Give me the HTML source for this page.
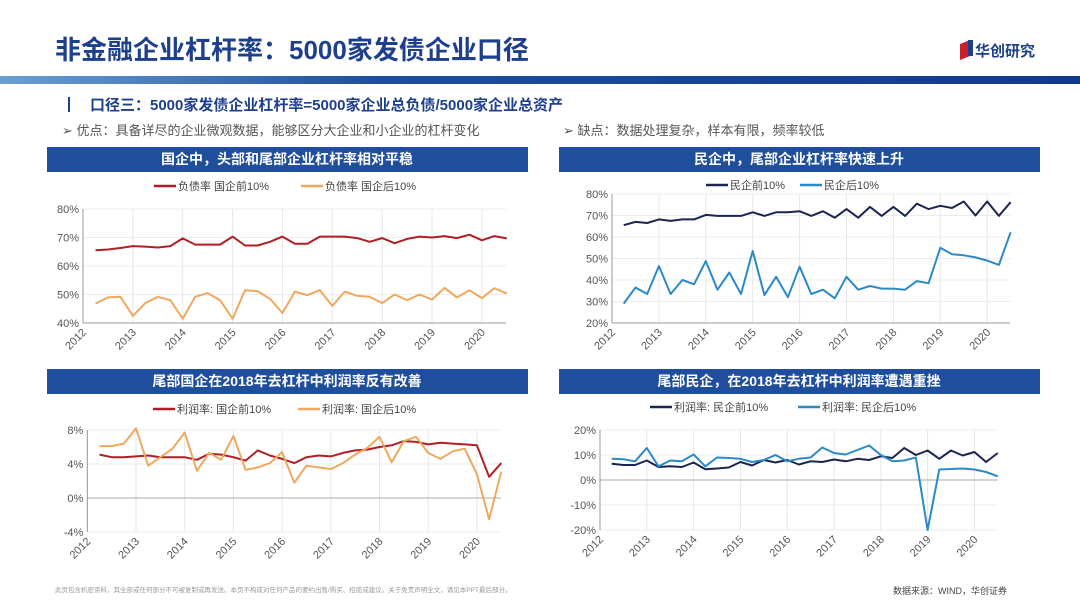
<!DOCTYPE html>
<html><head><meta charset="utf-8"><style>
body{margin:0;width:1080px;height:608px;background:#fff;overflow:hidden;font-family:"Liberation Sans","Noto Sans CJK SC",sans-serif;}
svg text{font-family:"Liberation Sans","Noto Sans CJK SC",sans-serif;}
</style></head><body>
<svg id="root" width="1080" height="608" viewBox="0 0 1080 608" xmlns="http://www.w3.org/2000/svg">
<defs><linearGradient id="bar" x1="0" x2="1"><stop offset="0" stop-color="#6a9fd4"/><stop offset="0.35" stop-color="#1d4e9c"/><stop offset="1" stop-color="#12398a"/></linearGradient></defs>
<text x="55" y="59" font-size="26" font-weight="bold" fill="#1e3f8c">非金融企业杠杆率：5000家发债企业口径</text>
<g><polygon points="960,44 970,40 970,56 960,60" fill="#c8202a"/><rect x="968" y="40" width="5" height="16" fill="#1e3f8c"/><text x="975" y="56" font-size="15" font-weight="bold" fill="#1e3f8c">华创研究</text></g>
<rect x="0" y="76" width="1080" height="8" fill="url(#bar)"/>
<rect x="68" y="97" width="2" height="15" fill="#1e3f8c"/>
<text x="90" y="110" font-size="15" font-weight="bold" fill="#1e3f8c">口径三：5000家发债企业杠杆率=5000家企业总负债/5000家企业总资产</text>
<text x="62" y="135" font-size="13" fill="#555">➢ 优点：具备详尽的企业微观数据，能够区分大企业和小企业的杠杆变化</text>
<text x="563" y="135" font-size="13" fill="#555">➢ 缺点：数据处理复杂，样本有限，频率较低</text>
<g id="charts"></g>
<text x="55" y="592" font-size="6.5" fill="#999">此页包含机密资料，其全部或任何部分不可被复制或再发送。本页不构成对任何产品的要约出售/购买、招揽或建议。关于免责声明全文，请见本PPT最后部分。</text>
<text x="893" y="594" font-size="9" fill="#444">数据来源：WIND，华创证券</text>
</svg>
<script>
const years=["2012","2013","2014","2015","2016","2017","2018","2019","2020"];
const soeLevTop=[65.5,65.8,66.3,67,66.8,66.5,67,69.7,67.5,67.5,67.5,70.3,67.2,67.2,68.5,70.3,67.8,67.8,70.3,70.3,70.3,69.8,68.5,69.8,68,69.5,70.3,70,70.5,69.8,71,69,70.5,69.7];
const soeLevBot=[46.8,49,49.2,42.5,47,49.2,48,41.5,49.2,50.5,48,41.5,51.5,51.2,48.5,43.5,51,49.8,51.5,46,51,49.5,49.2,47,50,48,50,48.2,52.3,49,51.5,48.7,52.2,50.3];
const poeLevTop=[65.5,67,66.5,68.2,67.5,68.2,68.2,70.3,69.8,69.8,69.8,71.5,69.8,71.5,71.5,72,69.8,72,69,73,69,74,69.8,74,69.8,75.5,73,74.5,73.5,76.5,70,76.5,69.8,76.2];
const poeLevBot=[29,36.5,33.5,46.5,33.5,40,38,48.8,35.5,43.5,33.5,53.5,33,41.5,32,46.2,33.5,35.5,31.5,41.5,35.5,37.2,36,36,35.5,39.5,38.5,55,52,51.5,50.5,49,47,62.2];
const soeProfTop=[5.1,4.8,4.8,4.9,5.0,4.8,4.8,4.8,4.5,5.2,5.1,4.8,4.4,5.6,5.0,4.6,4.1,4.8,5.0,4.9,5.3,5.6,5.7,6.0,6.2,6.7,6.6,6.3,6.5,6.4,6.3,6.2,2.5,4.1];
const soeProfBot=[6.1,6.1,6.4,8.2,3.8,4.8,5.8,7.7,3.2,5.3,4.5,7.3,3.3,3.6,4.1,5.4,1.8,3.8,3.6,3.4,4.1,5.1,5.9,7.2,4.2,6.7,7.2,5.3,4.6,5.5,5.8,2.8,-2.5,3.1];
const poeProfTop=[6.5,6,6,7.8,5.2,5.5,5.2,7,4.3,4.6,5,7.2,5.8,8,7,8,6.2,7.5,7.2,8.2,7.5,8.5,8,9.5,8.8,12.8,10,11.8,8.5,11.8,9.8,11.2,7.2,10.8];
const poeProfBot=[8.5,8.3,7.5,12.8,5.5,7.8,7.5,10.2,5.5,9,8.8,8.5,7.2,8,10,7.5,8.5,9,13,10.8,10.2,12,13.8,10,7.5,7.8,9,-20,4.2,4.4,4.6,4.2,3.2,1.5];
const ticks1=[40,50,60,70,80], ticks2=[20,30,40,50,60,70,80], ticks3=[-4,0,4,8], ticks4=[-20,-10,0,10,20];
const NS="http://www.w3.org/2000/svg";
const root=document.getElementById('charts');
function el(t,a,p){const e=document.createElementNS(NS,t);for(const k in a)e.setAttribute(k,a[k]);(p||root).appendChild(e);return e;}
function chart(cfg){
  const g=el('g',{});
  
  
  const bar=el('rect',{x:cfg.bx,y:cfg.by,width:481,height:25,fill:'#1f4e9c'},g);
  
  
  const tt=el('text',{x:cfg.bx+240,y:cfg.by+17,'font-size':14,'font-weight':'bold',fill:'#fff','text-anchor':'middle'},g);
  tt.textContent=cfg.title;
  
  
  const x0=cfg.x0,yw=cfg.yw,L=cfg.x0,R=cfg.right;
  const xs=t=>x0+t*yw;
  const ys=v=>cfg.yTop+(cfg.ymax-v)/(cfg.ymax-cfg.ymin)*(cfg.yBot-cfg.yTop);
  // grid
  years.forEach((yr,i)=>{const x=xs(i);
    el('line',{x1:x,x2:x,y1:cfg.yTop,y2:cfg.yBot,stroke:'#e6e6e6'},g);
    const tl=el('text',{x:x+4,y:cfg.yBot+10,'font-size':11,fill:'#555','text-anchor':'end',transform:`rotate(-45 ${x+4} ${cfg.yBot+10})`},g);
    tl.textContent=yr;
    
    
  });
  cfg.ticks.forEach(v=>{const y=ys(v);
    el('line',{x1:L,x2:R,y1:y,y2:y,stroke:v===0&&cfg.ymin<0?'#aaa':'#ececec'},g);
    const tl=el('text',{x:L-4,y:y+4,'font-size':11,fill:'#555','text-anchor':'end'},g);
    tl.textContent=v+'%';
    
    
  });
  el('line',{x1:L,x2:L,y1:cfg.yTop,y2:cfg.yBot,stroke:'#999'},g);
  if(cfg.ymin>=0) el('line',{x1:L,x2:R,y1:cfg.yBot,y2:cfg.yBot,stroke:'#999'},g);
  cfg.series.forEach((s,si)=>{
    const pts=s.data.map((v,i)=>xs((i+1)/4).toFixed(1)+','+ys(v).toFixed(1)).join(' ');
    const pl=el('polyline',{points:pts,fill:'none',stroke:s.color,'stroke-width':2,'stroke-linejoin':'round'},g);
    
    
    const lx=cfg.legX[si];
    el('line',{x1:lx,x2:lx+22,y1:cfg.legY,y2:cfg.legY,stroke:s.color,'stroke-width':2.5},g);
    const lt=el('text',{x:lx+24,y:cfg.legY+4,'font-size':11,fill:'#444'},g);
    lt.textContent=s.label;
    
    
  });
}
chart({name:'soe-leverage-chart',title:'国企中，头部和尾部企业杠杆率相对平稳',bx:47,by:147,x0:83,yw:49.86,right:506,yTop:209,yBot:323,ymin:40,ymax:80,ticks:ticks1,legY:186,legX:[154,301],
 series:[{key:'soe-top10',label:'负债率 国企前10%',color:'#b01f24',data:soeLevTop},{key:'soe-bottom10',label:'负债率 国企后10%',color:'#f0a860',data:soeLevBot}]});
chart({name:'poe-leverage-chart',title:'民企中，尾部企业杠杆率快速上升',bx:559,by:147,x0:612,yw:46.9,right:1010,yTop:194,yBot:323,ymin:20,ymax:80,ticks:ticks2,legY:185,legX:[706,800],
 series:[{key:'poe-top10',label:'民企前10%',color:'#1a2550',data:poeLevTop},{key:'poe-bottom10',label:'民企后10%',color:'#2b8ac6',data:poeLevBot}]});
chart({name:'soe-profit-chart',title:'尾部国企在2018年去杠杆中利润率反有改善',bx:47,by:369,x0:87.3,yw:48.7,right:501,yTop:430,yBot:532,ymin:-4,ymax:8,ticks:ticks3,legY:409,legX:[153,298],
 series:[{key:'soe-profit-top10',label:'利润率: 国企前10%',color:'#b01f24',data:soeProfTop},{key:'soe-profit-bottom10',label:'利润率: 国企后10%',color:'#f0a860',data:soeProfBot}]});
chart({name:'poe-profit-chart',title:'尾部民企，在2018年去杠杆中利润率遭遇重挫',bx:559,by:369,x0:600,yw:46.8,right:998,yTop:430,yBot:530,ymin:-20,ymax:20,ticks:ticks4,legY:407,legX:[650,798],
 series:[{key:'poe-profit-top10',label:'利润率: 民企前10%',color:'#1a2550',data:poeProfTop},{key:'poe-profit-bottom10',label:'利润率: 民企后10%',color:'#2b8ac6',data:poeProfBot}]});
</script>
</body></html>
